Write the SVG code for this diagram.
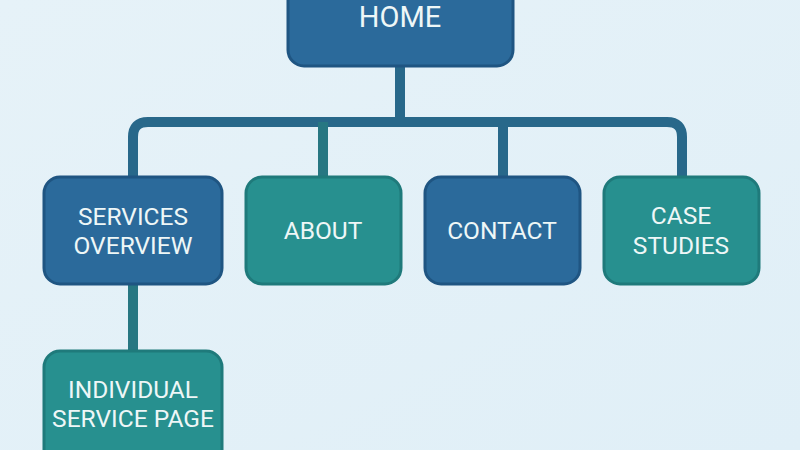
<svg xmlns="http://www.w3.org/2000/svg" width="800" height="450" viewBox="0 0 800 450">
<defs>
<linearGradient id="bg" x1="0" y1="0" x2="1" y2="1">
<stop offset="0" stop-color="#e6f2f8"/>
<stop offset="1" stop-color="#e0eff7"/>
</linearGradient>
</defs>
<style>
.blue{fill:#2b6a9b;stroke:#1f5582;stroke-width:3}
.teal{fill:#27908f;stroke:#1f7a7b;stroke-width:3}
.lbl{font-family:Roboto,"Liberation Sans",sans-serif;font-size:24.5px;fill:#eef7f7;text-anchor:middle}
.conn{fill:none;stroke:#28688a;stroke-width:10;stroke-linejoin:round}
</style>
<rect width="800" height="450" fill="url(#bg)"/>
<g id="connectors">
<path class="conn" d="M400 66 V122"/>
<path class="conn" d="M133 177 V137 Q133 122 148 122 H667 Q682 122 682 137 V177"/>
<path class="conn" style="stroke:#277782" d="M323 122 V177"/>
<path class="conn" d="M503 122 V177"/>
<path class="conn" style="stroke:#277782" d="M133 284 V351"/>
</g>
<g id="home">
<rect class="blue" x="288" y="-20" width="225" height="86" rx="16"/>
<text class="lbl" x="400" y="27" style="font-size:29px">HOME</text>
</g>
<g id="services">
<rect class="blue" x="44" y="177" width="178" height="107" rx="16"/>
<text class="lbl" x="133" y="225">SERVICES</text>
<text class="lbl" x="133" y="254">OVERVIEW</text>
</g>
<g id="about">
<rect class="teal" x="246" y="177" width="155" height="107" rx="16"/>
<text class="lbl" x="323" y="239">ABOUT</text>
</g>
<g id="contact">
<rect class="blue" x="425" y="177" width="155" height="107" rx="16"/>
<text class="lbl" x="502" y="239">CONTACT</text>
</g>
<g id="case-studies">
<rect class="teal" x="604" y="177" width="155" height="107" rx="16"/>
<text class="lbl" x="681" y="224">CASE</text>
<text class="lbl" x="681" y="254">STUDIES</text>
</g>
<g id="individual">
<rect class="teal" x="44" y="351" width="178" height="120" rx="16"/>
<text class="lbl" x="133" y="398">INDIVIDUAL</text>
<text class="lbl" x="133" y="427">SERVICE PAGE</text>
</g>
</svg>
